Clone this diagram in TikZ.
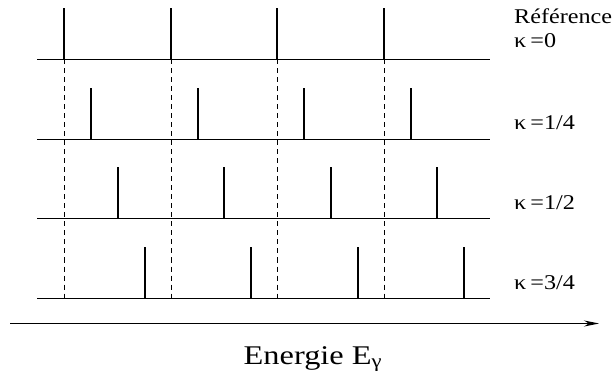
\documentclass[tikz,border=0pt]{standalone}
\usepackage{fontspec}
\setmainfont{Liberation Serif}
\usetikzlibrary{arrows.meta}
\begin{document}
\begin{tikzpicture}[x=1pt,y=-1pt,
  base/.style={line width=1pt},
  peak/.style={line width=2.2pt},
  guide/.style={line width=0.6pt,dash pattern=on 5pt off 4pt},
  lab/.style={anchor=base west,inner sep=0pt,xscale=1.15,font=\fontsize{21}{21}\selectfont},
  axis/.style={line width=1pt,-{Stealth[length=15pt,width=6pt]}}]
\useasboundingbox (0,0) rectangle (613,374);
% baselines
\foreach \r/\y in {a/59.5,b/139.5,c/218.5,d/298.5}{
  \coordinate (\r L) at (37,\y);
  \coordinate (\r R) at (490,\y);
  \draw[base] (\r L) -- (\r R);
}
% dashed guides
\foreach \i/\x in {1/64,2/171,3/277,4/384}{
  \coordinate (gt\i) at (\x,59.5);
  \coordinate (gb\i) at (\x,298.5);
  \draw[guide] (gt\i) -- (gb\i);
}
% peaks
\foreach \r/\y/\xa/\xb/\xc/\xd in {a/59/64/171/277/384,b/139/91/198/304/411,c/218/118/224/331/437,d/298/145/251/358/464}{
  \foreach \i/\x in {0/\xa,1/\xb,2/\xc,3/\xd}{
    \coordinate (p\r\i b) at (\x,\y);
    \coordinate (p\r\i t) at (\x,\y-51);
    \draw[peak] (p\r\i b) -- (p\r\i t);
  }
}
% labels
\node[lab] (ref) at (514,24) {Référence};
\node[lab] (k0) at (514,48) {κ\,=0};
\node[lab] (k1) at (514,130) {κ\,=1/4};
\node[lab] (k2) at (514,210) {κ\,=1/2};
\node[lab] (k3) at (514,289) {κ\,=3/4};
% axis
\coordinate (ax0) at (10,323.5);
\coordinate (ax1) at (599,323.5);
\draw[axis] (ax0) -- (ax1);
\node[anchor=base,inner sep=0pt,xscale=1.2,font=\fontsize{27}{27}\selectfont] (en) at (313,364) {Energie E\textsubscript{γ}};
\end{tikzpicture}
\end{document}
